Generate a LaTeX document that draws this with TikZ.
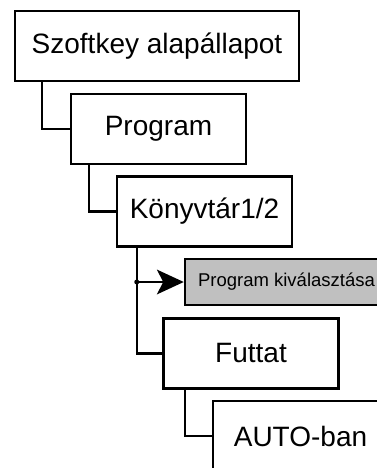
\documentclass[tikz,border=0pt]{standalone}
\usepackage{fontspec}
\setmainfont{Liberation Sans}
\usetikzlibrary{arrows.meta}
\definecolor{boxgray}{RGB}{192,192,192}
\tikzset{
  menubox/.style={draw=black, line width=2.5pt, fill=white, rectangle, inner sep=0pt,
    minimum height=70pt, minimum width=175pt, font=\fontsize{28}{32}\selectfont},
  subbox/.style={draw=black, line width=2.5pt, fill=boxgray, rectangle, inner sep=0pt,
    minimum height=46pt, minimum width=203pt, font=\fontsize{18.5}{22}\selectfont},
  conn/.style={draw=black, line width=2.3pt},
  tiphead/.style={fill=black, draw=none}
}
\begin{document}
\begin{tikzpicture}[x=1pt,y=-1pt]
\useasboundingbox (0,0) rectangle (377,468);
\clip (0,0) rectangle (377,468);
\fill[white] (0,0) rectangle (377,468);
\node[menubox, minimum width=284pt] (szoft) at (157,46) {Szoftkey alapállapot};
\node[menubox] (prog) at (158.5,129) {Program};
\node[menubox] (konyv) at (204.5,211.5) {Könyvtár1/2};
\node[subbox] (valaszt) at (286.5,282) {Program kiválasztása};
\node[menubox] (futtat) at (251,353.5) {Futtat};
\node[menubox] (auto) at (300.5,436) {AUTO-ban};
\draw[conn] ([xshift=28pt]szoft.south west) |- (prog.west);
\draw[conn] ([xshift=19pt]prog.south west) |- (konyv.west);
\draw[conn] ([xshift=21pt]konyv.south west) |- (futtat.west);
\coordinate (junc) at ([xshift=21pt]konyv.south west |- valaszt.west);
\draw[conn] (junc) -- ([xshift=-15pt]valaszt.west);
\fill[tiphead] (valaszt.west) -- ++(-27,-12.5) -- ++(6.5,12.5) -- ++(-6.5,12.5) -- cycle;
\fill[black] (junc) circle (2.5pt);
\draw[conn] ([xshift=23pt]futtat.south west) |- (auto.west);
\end{tikzpicture}
\end{document}
